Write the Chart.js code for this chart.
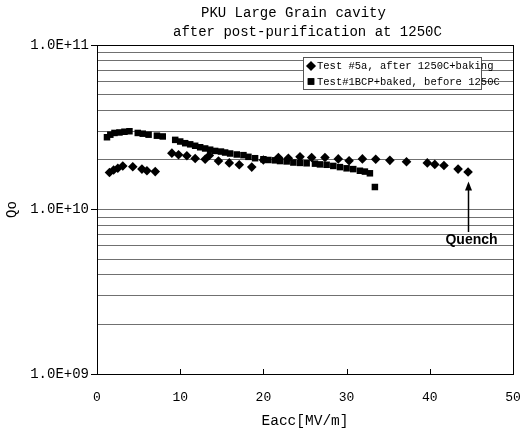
<!DOCTYPE html>
<html>
<head>
<meta charset="utf-8">
<script src="https://cdn.jsdelivr.net/npm/chart.js@4/dist/chart.umd.min.js"></script>
<style>
  html, body { margin: 0; padding: 0; background: #fff; }
  #wrap { width: 532px; height: 431px; }
</style>
</head>
<body>
<div id="wrap"><canvas id="qChart" width="532" height="431"></canvas></div>
<script>
// Test #5a, after 1250C+baking (diamonds)
const test5aEacc = [1.5, 2.0, 2.5, 3.1, 4.3, 5.4, 6.0, 7.0, 9.0, 9.8, 10.8, 11.8, 13.0, 13.5, 14.6, 15.9, 17.1, 18.6,
    20.0, 21.8, 23.0, 24.4, 25.8, 27.4, 29.0, 30.3, 31.9, 33.5, 35.2, 37.2, 39.7, 40.6, 41.7, 43.4, 44.6];
const test5aQ0 = [1.68e10, 1.74e10, 1.78e10, 1.84e10, 1.82e10, 1.76e10, 1.72e10, 1.70e10, 2.20e10, 2.15e10, 2.12e10,
    2.04e10, 2.02e10, 2.13e10, 1.97e10, 1.92e10, 1.87e10, 1.81e10, 2.00e10, 2.07e10, 2.05e10, 2.09e10, 2.07e10,
    2.07e10, 2.03e10, 1.98e10, 2.03e10, 2.02e10, 1.99e10, 1.95e10, 1.92e10, 1.88e10, 1.85e10, 1.76e10, 1.69e10];

// Test#1BCP+baked, before 1250C (squares)
const test1Eacc = [1.2, 1.6, 2.1, 2.7, 3.3, 3.9, 4.9, 5.5, 6.2, 7.2, 7.9, 9.4, 10.0, 10.6, 11.2, 11.8, 12.4, 13.0,
    13.6, 14.2, 14.9, 15.4, 16.0, 16.8, 17.6, 18.2, 19.0, 20.0, 20.6, 21.4, 22.0, 22.8, 23.6, 24.4, 25.2, 26.2,
    26.8, 27.6, 28.4, 29.2, 30.0, 30.8, 31.6, 32.2, 32.8, 33.4];
const test1Q0 = [2.75e10, 2.85e10, 2.92e10, 2.94e10, 2.97e10, 2.99e10, 2.92e10, 2.89e10, 2.85e10, 2.81e10, 2.78e10,
    2.65e10, 2.59e10, 2.53e10, 2.49e10, 2.44e10, 2.39e10, 2.35e10, 2.31e10, 2.27e10, 2.25e10, 2.22e10, 2.19e10,
    2.16e10, 2.14e10, 2.09e10, 2.05e10, 2.02e10, 2.00e10, 1.99e10, 1.97e10, 1.96e10, 1.93e10, 1.92e10, 1.91e10,
    1.90e10, 1.88e10, 1.87e10, 1.84e10, 1.81e10, 1.78e10, 1.76e10, 1.72e10, 1.70e10, 1.66e10, 1.37e10];

const seriesLabels = ["Test #5a, after 1250C+baking", "Test#1BCP+baked, before 1250C"];
const titleLines = ["PKU Large Grain cavity", "after post-purification at 1250C"];
const xTicks = [0, 10, 20, 30, 40, 50];
const yDecades = [1e9, 1e10, 1e11];
const yDecadeLabels = ["1.0E+09", "1.0E+10", "1.0E+11"];
const quenchLabel = "Quench";
const quenchArrowQ = [7.3e9, 1.48e10]; // arrow foot / tip

const MONO = "'Liberation Mono', 'DejaVu Sans Mono', monospace";

const toPoints = (xs, ys) => xs.map((x, i) => ({ x, y: ys[i] }));

// every 1..9 x 10^n between the decades
function logGridValues() {
    const out = [];
    for (let d = 0; d < yDecades.length - 1; d++) {
        for (let m = 1; m <= 9; m++) out.push(m * yDecades[d]);
    }
    out.push(yDecades[yDecades.length - 1]);
    return out;
}

const decorations = {
    id: "decorations",
    afterDraw(chart) {
        const { ctx, chartArea: a, scales } = chart;
        const xs = scales.x, ys = scales.y;
        ctx.save();

        // plot frame
        ctx.strokeStyle = "#000";
        ctx.lineWidth = 1;
        ctx.strokeRect(a.left + 0.5, a.top + 0.5, a.right - a.left, a.bottom - a.top);

        // x tick marks pointing inwards
        ctx.beginPath();
        xTicks.slice(1, -1).forEach(v => {
            const px = Math.round(xs.getPixelForValue(v)) + 0.5;
            ctx.moveTo(px, a.bottom);
            ctx.lineTo(px, a.bottom - 5);
        });
        ctx.stroke();

        // title
        ctx.fillStyle = "#000";
        ctx.font = "14px " + MONO;
        ctx.textBaseline = "middle";
        ctx.textAlign = "left";
        ctx.fillText(titleLines[0], 201, 13);
        ctx.fillText(titleLines[1], 173, 32);

        // legend box
        const lx = 303, ly = 57, lw = 178, lh = 32;
        ctx.fillStyle = "#fff";
        ctx.fillRect(lx, ly, lw, lh);
        ctx.strokeStyle = "#555";
        ctx.strokeRect(lx + 0.5, ly + 0.5, lw, lh);
        chart.data.datasets.forEach((ds, i) => {
            const cy = 66 + i * 15.5;
            ctx.fillStyle = "#000";
            Chart.helpers.drawPoint(ctx, { pointStyle: ds.pointStyle, radius: ds.pointRadius, rotation: 0, borderWidth: 0 }, 311, cy);
            ctx.fill();
            ctx.font = "10.5px " + MONO;
            ctx.fillText(ds.label, 317, cy + 0.5);
        });

        // quench arrow + label
        const qx = Math.round(xs.getPixelForValue(test5aEacc[test5aEacc.length - 1])) + 0.5;
        const yFoot = ys.getPixelForValue(quenchArrowQ[0]);
        const yTip = ys.getPixelForValue(quenchArrowQ[1]);
        ctx.strokeStyle = "#000";
        ctx.lineWidth = 1.5;
        ctx.beginPath();
        ctx.moveTo(qx, yFoot);
        ctx.lineTo(qx, yTip + 4);
        ctx.stroke();
        ctx.fillStyle = "#000";
        ctx.beginPath();
        ctx.moveTo(qx, yTip);
        ctx.lineTo(qx - 3.5, yTip + 9);
        ctx.lineTo(qx + 3.5, yTip + 9);
        ctx.closePath();
        ctx.fill();
        ctx.font = "bold 14px 'Liberation Sans', Arial, sans-serif";
        ctx.textAlign = "center";
        ctx.fillText(quenchLabel, qx + 3, yFoot + 8);

        ctx.restore();
    }
};

new Chart(document.getElementById("qChart"), {
    type: "scatter",
    data: {
        datasets: [
            {
                label: seriesLabels[0],
                data: toPoints(test5aEacc, test5aQ0),
                pointStyle: "rectRot",
                pointRadius: 4.8,
                backgroundColor: "#000",
                borderColor: "#000",
                borderWidth: 0
            },
            {
                label: seriesLabels[1],
                data: toPoints(test1Eacc, test1Q0),
                pointStyle: "rect",
                pointRadius: 4.6,
                backgroundColor: "#000",
                borderColor: "#000",
                borderWidth: 0
            }
        ]
    },
    options: {
        responsive: false,
        animation: false,
        devicePixelRatio: 1,
        layout: { padding: { top: 45, right: 19, left: 0, bottom: 0 } },
        plugins: {
            legend: { display: false },
            title: { display: false },
            tooltip: { enabled: false }
        },
        scales: {
            x: {
                type: "linear",
                min: 0,
                max: 50,
                afterFit(scale) { scale.height = 57; },
                afterBuildTicks(scale) { scale.ticks = xTicks.map(v => ({ value: v })); },
                grid: {
                    display: true,
                    drawOnChartArea: false,
                    drawTicks: true,
                    tickLength: 14,
                    tickColor: "rgba(0,0,0,0)"
                },
                border: { display: false },
                ticks: {
                    padding: 2,
                    color: "#000",
                    font: { family: MONO, size: 13 }
                },
                title: {
                    display: true,
                    text: "Eacc[MV/m]",
                    color: "#000",
                    padding: { top: 2, bottom: 1 },
                    font: { family: MONO, size: 14.5 }
                }
            },
            y: {
                type: "logarithmic",
                min: yDecades[0],
                max: yDecades[yDecades.length - 1],
                afterFit(scale) { scale.width = 97; },
                afterBuildTicks(scale) { scale.ticks = logGridValues().map(v => ({ value: v })); },
                border: { display: false },
                grid: {
                    color: ctx => (ctx.tick && (ctx.tick.value === yDecades[0] || ctx.tick.value === yDecades[2])) ? "rgba(0,0,0,0)" : "#707070",
                    lineWidth: 1,
                    drawTicks: true,
                    tickLength: 6,
                    tickColor: ctx => (ctx.tick && yDecades.includes(ctx.tick.value)) ? "#000" : "rgba(0,0,0,0)"
                },
                ticks: {
                    autoSkip: false,
                    padding: 2,
                    color: "#000",
                    font: { family: MONO, size: 14 },
                    callback(value) {
                        const i = yDecades.indexOf(value);
                        return i >= 0 ? yDecadeLabels[i] : "";
                    }
                },
                title: {
                    display: true,
                    text: "Qo",
                    color: "#000",
                    padding: { top: 4, bottom: 0 },
                    font: { family: MONO, size: 14 }
                }
            }
        }
    },
    plugins: [decorations]
});
</script>
</body>
</html>
